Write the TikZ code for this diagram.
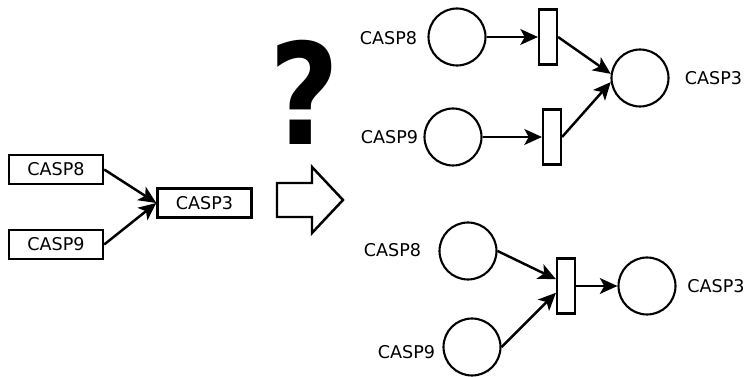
\documentclass[tikz,border=0pt]{standalone}
\usepackage{fontspec}
\setmainfont{DejaVu Sans}
\usetikzlibrary{arrows.meta}

\begin{document}
\begin{tikzpicture}[x=0.02cm,y=-0.02cm,
		box/.style={draw,line width=1.4pt,minimum width=1.88cm,minimum height=0.58cm,inner sep=0pt,font=\fontsize{10}{12}\selectfont},
		place/.style={circle,draw,line width=1.2pt,minimum size=1.14cm,inner sep=0pt},
		trans/.style={draw,line width=1.2pt,minimum width=0.36cm,minimum height=1.1cm,inner sep=0pt},
		lbl/.style={font=\fontsize{10}{12}\selectfont},
		arr/.style={-{Stealth[length=10pt,width=9pt,inset=2.5pt]},line width=1.4pt}]
		\useasboundingbox (0,0) rectangle (744,377);
		% plain reaction graph
		\node[box] (b8) at (56,169.5) {CASP8};
		\node[box] (b9) at (56,244.5) {CASP9};
		\node[box] (b3) at (204.5,203) {CASP3};
		\draw[arr] (b8.east) -- (b3.west);
		\draw[arr] (b9.east) -- (b3.west);
		% question mark and block arrow
		\node (q) at (305,92) {\scalebox{0.86}[1]{\fontsize{80}{80}\selectfont\bfseries ?}};
		\draw[line width=1.4pt] (277,183) -- (312,183) -- (312,167) -- (343,200) -- (312,233) -- (312,217) -- (277,217) -- cycle;
		% petri net, one transition per input
		\node[place] (p8a) at (457,37) {};
		\node[place] (p9a) at (453,137) {};
		\node[place] (p3a) at (640,78) {};
		\node[trans] (t8a) at (548,37) {};
		\node[trans] (t9a) at (552,137) {};
		\node[lbl] (l8a) at (388.5,38) {CASP8};
		\node[lbl] (l9a) at (389.5,137) {CASP9};
		\node[lbl] (l3a) at (713.5,78) {CASP3};
		\draw[arr] (p8a) -- (t8a);
		\draw[arr] (p9a) -- (t9a);
		\draw[arr] (t8a.east) -- (p3a.172);
		\draw[arr] (t9a.east) -- (p3a.188);
		% petri net, one shared transition
		\node[place] (p8b) at (468,251) {};
		\node[place] (p9b) at (472,347) {};
		\node[place] (p3b) at (647,286) {};
		\node[trans] (tb) at (566,286) {};
		\node[lbl] (l8b) at (392.5,250) {CASP8};
		\node[lbl] (l9b) at (406.5,352) {CASP9};
		\node[lbl] (l3b) at (716,286) {CASP3};
		\draw[arr] (p8b.east) -- (tb.146);
		\draw[arr] (p9b.east) -- (tb.214);
		\draw[arr] (tb) -- (p3b);
	\end{tikzpicture}
\end{document}
